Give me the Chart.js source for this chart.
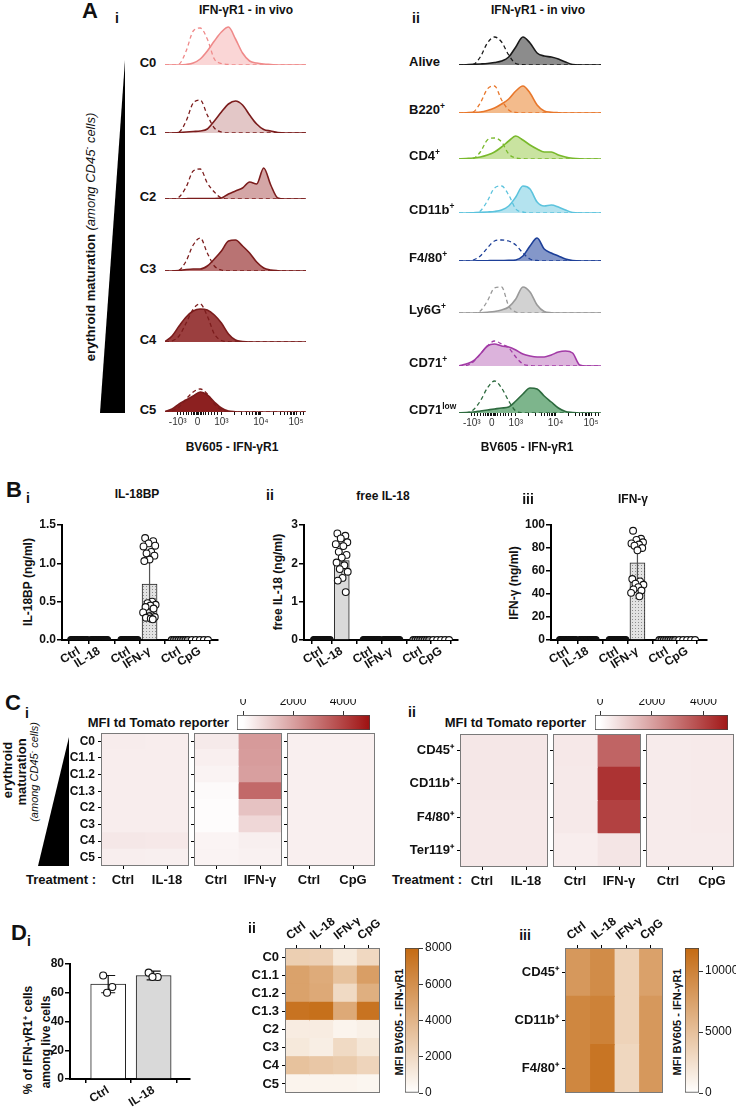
<!DOCTYPE html>
<html lang="en">
<head>
<meta charset="UTF-8">
<title>IFN-gR1 figure</title>
<script src="https://cdn.jsdelivr.net/npm/chart.js@4.4.1/dist/chart.umd.min.js"></script>
<style>
  body { margin: 0; background: #fff; }
  #stage { position: relative; width: 736px; height: 1110px; overflow: hidden;
           font-family: 'Liberation Sans', Arial, sans-serif; color: #111; }
  #stage canvas { position: absolute; }
  .t { position: absolute; white-space: nowrap; font-weight: bold; line-height: 1; }
  .t sup { font-size: 65%; vertical-align: 0.55em; line-height: 0; }
  .tri { position: absolute; background: #000; clip-path: polygon(100% 0, 100% 100%, 0 100%); }
</style>
</head>
<body>
<div id="stage"></div>
<script>
// ---------------- A : histograms (display channel 0..100, counts) ----------------
const histX = [0,5,10,15,20,25,30,35,40,45,50,55,60,65,70,75,80,85,90,95,100];
const axisTickPos = [9,23,40,68,93];
const axisTickLabels = ['-10³','0','10³','10⁴','10⁵'];
const minorTickPos = [11,13,15,17,19,20,21,22,24,25,26,27,29,31,33,35,37,49,54,58,60,62,64,65,66,67,77,82,85,87,89,90,91,92,96,98];

const eryNames = ['C0','C1','C2','C3','C4','C5'];
const c0Stain = [0,0,0,0.5,2,6,14,24,33,38,26,12,4,2,1,0.5,0,0,0,0,0];
const c0Iso   = [0,0,1,14,34,37,26,6,1.5,0.5,0,0,0,0,0,0,0,0,0,0,0];
const c1Stain = [0,0,0.5,1,1.5,2,4,12,21,29,32,28,18,9,3.5,2,0.5,0,0,0,0];
const c1Iso   = [0,0,1,12,30,33,18,5,1,0,0,0,0,0,0,0,0,0,0,0,0];
const c2Stain = [0,0,0,0.3,0.5,0.5,0.5,0.5,1,5,8,11,17,15,31,14,1,0,0,0,0];
const c2Iso   = [0,0,2,12,28,30,16,7,1,0,0,0,0,0,0,0,0,0,0,0,0];
const c3Stain = [0,0,0.5,1.5,2,2,5,12,20,30,31,25,18,9,3,1,0.3,0,0,0,0];
const c3Iso   = [0,0,1,10,26,33,18,5,1,0,0,0,0,0,0,0,0,0,0,0,0];
const c4Stain = [0.5,6,16,25,31,33,32,27,19,8,2,0.5,0,0,0,0,0,0,0,0,0];
const c4Iso   = [0,1,6,19,33,38,26,8,1.5,0.3,0,0,0,0,0,0,0,0,0,0,0];
const c5Stain = [0.5,3,8,12,16,20,17,10,4,1,0.3,0,0,0,0,0,0,0,0,0,0];
const c5Iso   = [0,1,5,13,20,23,18,8,2,0,0,0,0,0,0,0,0,0,0,0,0];

const popNames = ['Alive','B220<sup>+</sup>','CD4<sup>+</sup>','CD11b<sup>+</sup>','F4/80<sup>+</sup>','Ly6G<sup>+</sup>','CD71<sup>+</sup>','CD71<sup>low</sup>'];
const aliveStain   = [0,0.3,0.6,1,1.5,2.5,4,8,18,28,22,12,9,8,6,3,0.5,0,0,0,0];
const aliveIso     = [0,0,0.5,8,22,28,23,10,1.5,0.3,0,0,0,0,0,0,0,0,0,0,0];
const b220Stain    = [0,0.3,0.6,1,2.5,5,9,14,22,27,20,8,2,0.8,0.3,0,0,0,0,0,0];
const b220Iso      = [0,0,1,10,24,27,13,3,0.5,0,0,0,0,0,0,0,0,0,0,0,0];
const cd4Stain     = [0,0.5,1,2,4,7,12,18,23,19,14,10,7,7,4,2,0.8,0.2,0,0,0];
const cd4Iso       = [0,0,0.5,7,19,21,17,5,1,0.3,0,0,0,0,0,0,0,0,0,0,0];
const cd11bStain   = [0,0,0.3,0.6,1,1.5,3,7,16,27,24,11,7,8,6,3,0.5,0,0,0,0];
const cd11bIso     = [0,0,0,2,12,25,27,18,4,1,0,0,0,0,0,0,0,0,0,0,0];
const f480Stain    = [0,0,0,0.2,0.3,0.4,0.5,0.6,1,5,15,23,12,8,5,2,0.5,0,0,0,0];
const f480Iso      = [0,0,1,5,13,20,21,20,16,8,2,0.5,0,0,0,0,0,0,0,0,0];
const ly6gStain    = [0,0,0,0.3,0.8,1.5,3,6,14,26,21,8,1.5,0.3,0,0,0,0,0,0,0];
const ly6gIso      = [0,0,0,2,12,25,26,7,1,0,0,0,0,0,0,0,0,0,0,0,0];
const cd71Stain    = [0,2,5,12,20,22,20,19,16,12,10,9,9,11,14,15,13,1,0,0,0];
const cd71Iso      = [0,0.5,4,12,20,25,22,18,9,2,0.5,0,0,0,0,0,0,0,0,0,0];
const cd71lowStain = [0,0.5,1,2,3,4,5,6,12,19,25,24,17,11,5,1.5,0.5,0,0,0,0];
const cd71lowIso   = [0,0,3,12,25,32,25,12,2,0.3,0,0,0,0,0,0,0,0,0,0,0];

// ---------------- B : ELISA ----------------
const bCats = ['Ctrl','IL-18','Ctrl','IFN-γ','Ctrl','CpG'];
const bPos = [1,2,3.5,4.5,6,7];
const undet12 = [0,0,0,0,0,0,0,0,0,0,0,0];
const undet8 = [0,0,0,0,0,0,0,0];
const undet5 = [0,0,0,0,0];
const il18bpMean = [0,0,0,0.73,0,0];
const il18bpSd = [0,0,0,0.33,0,0];
const il18bpIfng = [1.33,1.29,1.26,1.23,1.22,1.15,1.13,1.10,1.05,1.03,0.50,0.48,0.46,0.45,0.43,0.41,0.36,0.32,0.31,0.30,0.29,0.28,0.27];
const freeIl18Mean = [0,2.07,0,0,0,0];
const freeIl18Sd = [0,0.45,0,0,0,0];
const freeIl18Il18 = [2.78,2.72,2.65,2.55,2.50,2.45,2.30,2.22,2.15,2.02,1.95,1.85,1.78,1.62,1.55,1.25];
const ifngMean = [0,0,0,67,0,0];
const ifngSd = [0,0,0,19,0,0];
const ifngIfng = [95,88,87,85,84,83,82,80,78,53,51,49,48,46,44,43,41,38];

// ---------------- C : tdTomato reporter MFI ----------------
const ciRows = ['C0','C1.1','C1.2','C1.3','C2','C3','C4','C5'];
const ciCtrlA = [400,390,390,390,390,390,520,360];
const ciIl18  = [380,380,380,380,380,380,500,350];
const ciCtrlB = [450,330,250,100,60,60,230,250];
const ciIfng  = [2150,2100,2050,3200,1300,850,350,300];
const ciCtrlC = [330,330,330,330,330,330,330,330];
const ciCpg   = [340,330,330,330,330,330,330,330];
const ciiRows = ['CD45⁺','CD11b⁺','F4/80⁺','Ter119⁺'];
const ciiCtrlA = [520,510,500,480];
const ciiIl18  = [520,510,500,480];
const ciiCtrlB = [480,470,460,380];
const ciiIfng  = [3300,4350,4050,560];
const ciiCtrlC = [430,430,430,430];
const ciiCpg   = [440,440,440,430];

// ---------------- D ----------------
const diCats = ['Ctrl','IL-18'];
const diMean = [66,72];
const diSd = [6,3];
const diCtrlPts = [72,64,60];
const diIl18Pts = [74,71,71];
const dCols = ['Ctrl','IL-18','IFN-γ','CpG'];
const diiCtrl = [2600,5000,5000,7500,1000,1200,3300,600];
const diiIl18 = [2500,4500,4600,7700,1000,900,3000,600];
const diiIfng = [1200,3300,2000,4600,600,2000,2800,600];
const diiCpg  = [2100,5200,4300,7500,800,1300,2300,500];
const diiiRows = ['CD45⁺','CD11b⁺','F4/80⁺'];
const diiiCtrl = [8200,9600,9600];
const diiiIl18 = [9200,10000,11000];
const diiiIfng = [3500,3500,3200];
const diiiCpg  = [7500,8200,8200];

// ---------------- styling ----------------
const eryLine = ['#ef8a8a','#7b1c1c','#7b1c1c','#7b1c1c','#7b1c1c','#7b1c1c'];
const eryFill = ['#fad6d6','#e3c7c7','#d4a6a6','#b97373','#9b3f3f','#8c2020'];
const popLine = ['#1a1a1a','#e8772b','#79b92c','#5cc3dd','#1d3f98','#9a9a9a','#a23ba6','#2d6a3e'];
const popFill = ['#8c8c8c','#f3bb8c','#c9e3a0','#b4e3ef','#8497c9','#d2d2d2','#dcb3dc','#7db58c'];
const dotFill = { k: '#111', o: '#fff', g: '#9a9a9a' };
const jitter = [-0.22,0.18,-0.05,0.28,-0.3,0.08,-0.15,0.24,0.0,-0.26,0.13,-0.1,0.3,0.04,-0.2,0.2,-0.32,0.1,-0.02,0.26,-0.18,0.06,0.16];
const tomatoHi = [160,20,20];
const bv605Hi = [196,106,18];

Chart.defaults.font.family = "'Liberation Sans', Arial, sans-serif";
Chart.defaults.color = '#111';
Chart.defaults.animation = false;
Chart.defaults.events = [];
Chart.defaults.plugins.legend.display = false;
Chart.defaults.plugins.tooltip.enabled = false;

const stage = document.getElementById('stage');

function place(x, y, w, h, config) {
  const c = document.createElement('canvas');
  c.width = w; c.height = h;
  c.style.left = x + 'px'; c.style.top = y + 'px';
  stage.appendChild(c);
  config.options = Object.assign({ responsive: false, maintainAspectRatio: false }, config.options);
  return new Chart(c, config);
}

function label(x, y, html, css, anchor, rot) {
  const d = document.createElement('div');
  d.className = 't';
  d.innerHTML = html;
  d.style.cssText = css || '';
  d.style.left = x + 'px'; d.style.top = y + 'px';
  const tx = anchor === 'l' ? '0' : anchor === 'r' ? '-100%' : '-50%';
  d.style.transform = `translate(${tx}, -50%)` + (rot ? ` rotate(${rot}deg)` : '');
  stage.appendChild(d);
}

function triangle(x, y, w, h) {
  const d = document.createElement('div');
  d.className = 'tri';
  Object.assign(d.style, { left: x + 'px', top: y + 'px', width: w + 'px', height: h + 'px' });
  stage.appendChild(d);
}

function shade(v, max, hi) {
  const t = Math.max(0, Math.min(1, v / max));
  const c = hi.map(h => Math.round(255 + (h - 255) * t));
  return `rgb(${c[0]},${c[1]},${c[2]})`;
}

const pairs = (xs, ys) => ys.map((y, i) => ({ x: xs[i], y }));

// ---------- histogram ----------
const histH = 46;
function histogram(left, width, base, stain, iso, line, fill, withAxis) {
  const axH = 24;
  return place(left, base - histH, width, histH + (withAxis ? axH : 2), {
    type: 'line',
    data: { datasets: [
      { data: pairs(histX, iso), borderColor: line, borderWidth: 1.3, borderDash: [4, 3], fill: false },
      { data: pairs(histX, stain), borderColor: line, borderWidth: 1.6, backgroundColor: fill, fill: 'origin' }
    ]},
    options: {
      layout: { padding: { bottom: withAxis ? 0 : 2 } },
      elements: { point: { radius: 0 }, line: { cubicInterpolationMode: 'monotone' } },
      scales: {
        x: { type: 'linear', min: 0, max: 100, display: withAxis,
             border: { display: false },
             grid: { drawOnChartArea: false, tickLength: 3, color: '#111', lineWidth: 1 },
             afterBuildTicks: ax => { ax.ticks = axisTickPos.concat(minorTickPos).map(v => ({ value: v })); },
             afterFit: s => { if (withAxis) { s.height = axH; s.paddingLeft = 0; s.paddingRight = 0; } },
             ticks: { autoSkip: false, maxRotation: 0, minRotation: 0, padding: 1, font: { size: 10 }, color: '#333',
                      callback: v => { const i = axisTickPos.indexOf(v); return i < 0 ? '' : axisTickLabels[i]; } } },
        y: { min: 0, max: histH, display: false }
      }
    }
  });
}

// ---------- dotted bar fill ----------
const pat = document.createElement('canvas');
pat.width = 3; pat.height = 3;
const pctx = pat.getContext('2d');
pctx.fillStyle = '#e2e2e2'; pctx.fillRect(0, 0, 3, 3);
pctx.fillStyle = '#8e8e8e'; pctx.fillRect(0, 0, 1, 1);
const dotted = pctx.createPattern(pat, 'repeat');

function errBars(pos, means, sds, color, cap) {
  return {
    id: 'errbars',
    afterDatasetDraw(chart, args) {
      if (args.index !== 1) return;
      const { ctx, scales: { x, y } } = chart;
      ctx.save();
      ctx.strokeStyle = color; ctx.lineWidth = 1.2;
      means.forEach((m, i) => {
        if (!sds[i]) return;
        const px = x.getPixelForValue(pos[i]);
        const lo = y.getPixelForValue(m - sds[i]), hi = y.getPixelForValue(m + sds[i]);
        ctx.beginPath();
        ctx.moveTo(px, lo); ctx.lineTo(px, hi);
        ctx.moveTo(px - cap / 2, hi); ctx.lineTo(px + cap / 2, hi);
        ctx.moveTo(px - cap / 2, lo); ctx.lineTo(px + cap / 2, lo);
        ctx.stroke();
      });
      ctx.restore();
    }
  };
}

function dotBar(o) {
  const yw = 30, xh = 40, padTop = 8, padRight = 6;
  const pts = [], fills = [];
  o.groups.forEach((vals, g) => {
    vals.forEach((v, i) => {
      const off = (o.means[g] === 0)
        ? -0.4 + 0.8 * i / Math.max(1, vals.length - 1)
        : jitter[i % jitter.length];
      pts.push({ x: o.pos[g] + off * o.spread, y: v });
      fills.push(dotFill[o.dots[g]]);
    });
  });
  return place(o.axisX - yw, o.topPx - padTop, yw + (o.rightPx - o.axisX) + padRight,
               padTop + (o.zeroPx - o.topPx) + xh, {
    type: 'bar',
    data: { datasets: [
      { type: 'scatter', data: pts, pointRadius: o.r, pointBorderWidth: 1.1,
        pointBackgroundColor: fills, pointBorderColor: '#111' },
      { type: 'bar', data: o.means.map((m, i) => ({ x: o.pos[i], y: m })),
        backgroundColor: o.barFill, borderColor: '#222', borderWidth: 1,
        barThickness: o.barW, borderSkipped: 'bottom' }
    ]},
    options: {
      layout: { padding: { top: padTop, right: padRight } },
      scales: {
        x: { type: 'linear', min: o.xmin, max: o.xmax, offset: false,
             border: { color: '#000', width: 2 },
             grid: { drawOnChartArea: false, tickLength: 4, color: '#000', lineWidth: 1.5 },
             afterBuildTicks: ax => { ax.ticks = o.pos.map(v => ({ value: v })); },
             afterFit: s => { s.height = xh; s.paddingLeft = 0; s.paddingRight = 0; },
             ticks: { autoSkip: false, minRotation: 32, maxRotation: 32, padding: 0,
                      font: { size: 12, weight: 'bold' }, callback: (v, i) => o.cats[i] } },
        y: { min: 0, max: o.ymax,
             border: { color: '#000', width: 2 },
             grid: { drawOnChartArea: false, tickLength: 5, color: '#000', lineWidth: 1.5 },
             afterFit: s => { s.width = yw; s.paddingTop = 0; s.paddingBottom = 0; },
             ticks: { stepSize: o.ystep, padding: 1, font: { size: 12, weight: 'bold' }, callback: o.yfmt } }
      }
    },
    plugins: [errBars(o.pos, o.means, o.sds, o.errColor, o.cap)]
  });
}

// ---------- heatmap ----------
const frame = color => ({
  id: 'frame',
  afterDatasetsDraw(chart) {
    const { ctx, chartArea: a } = chart;
    ctx.save();
    ctx.strokeStyle = color; ctx.lineWidth = 1;
    ctx.strokeRect(Math.round(a.left) + 0.5, Math.round(a.top) + 0.5,
                   Math.round(a.right - a.left) - 1, Math.round(a.bottom - a.top) - 1);
    ctx.restore();
  }
});

function heatmap(o) {
  const [x0, y0, w, h] = o.area;
  const top = o.xTop, yw = o.yw, xh = o.xh, padR = 2;
  const cTop = top ? y0 - xh : y0;
  const height = top ? xh + h + 2 : h + xh;
  const colTicks = o.cols.map((_, i) => i + 0.5);
  return place(x0 - yw, cTop, yw + w + padR, height, {
    type: 'bar',
    data: { labels: o.rows, datasets: o.matrix.map(col => ({
      data: col.map(() => 1),
      backgroundColor: col.map(v => shade(v, o.max, o.hi)),
      borderWidth: 0, barPercentage: 1, categoryPercentage: 1, inflateAmount: 0.6 })) },
    options: {
      indexAxis: 'y',
      layout: { padding: { right: padR, bottom: top ? 2 : 0 } },
      scales: {
        x: { type: 'linear', stacked: true, min: 0, max: o.cols.length, position: top ? 'top' : 'bottom',
             border: { display: false },
             grid: { drawOnChartArea: false, tickLength: 3, color: '#000' },
             afterBuildTicks: ax => { ax.ticks = colTicks.map(v => ({ value: v })); },
             afterFit: s => { s.height = xh; s.paddingLeft = 0; s.paddingRight = 0; },
             ticks: { autoSkip: false, minRotation: o.rot, maxRotation: o.rot, padding: o.xpad,
                      font: { size: o.xfont, weight: 'bold' }, callback: (v, i) => o.cols[i] } },
        y: { stacked: true, border: { display: false },
             grid: { offset: false, drawOnChartArea: false, tickLength: 3, color: '#000' },
             afterFit: s => { s.width = yw; s.paddingTop = 0; s.paddingBottom = 0; },
             ticks: { display: o.rowLabels, autoSkip: false, padding: 3, font: { size: o.yfont, weight: 'bold' } } }
      }
    },
    plugins: [frame('#7a7a7a')]
  });
}

function colorbar(o) {
  const [x0, y0, w, h] = o.area;
  const vert = o.vertical;
  const grad = ctx => {
    const ch = ctx.chart;
    if (!ch.chartArea) return shade(o.max, o.max, o.hi);
    const s = ch.scales[vert ? 'y' : 'x'];
    const p0 = s.getPixelForValue(0), p1 = s.getPixelForValue(o.full);
    const g = vert ? ch.ctx.createLinearGradient(0, p0, 0, p1) : ch.ctx.createLinearGradient(p0, 0, p1, 0);
    g.addColorStop(0, '#fff');
    g.addColorStop(1, shade(o.full, o.full, o.hi));
    return g;
  };
  const valueScale = {
    type: 'linear', min: o.min, max: o.max, position: vert ? 'right' : 'top',
    border: { display: false },
    grid: { drawOnChartArea: false, tickLength: 4, color: '#333' },
    afterBuildTicks: ax => { ax.ticks = o.ticks.map(v => ({ value: v })); },
    afterFit: s => {
      if (vert) { s.width = 44; s.paddingTop = 0; s.paddingBottom = 0; }
      else { s.height = 16; s.paddingLeft = 0; s.paddingRight = 0; }
    },
    ticks: { autoSkip: false, maxRotation: 0, padding: 2, font: { size: 12 }, callback: v => String(v) }
  };
  const catScale = { display: false };
  return place(vert ? x0 : x0 - 10, vert ? y0 - 8 : y0 - 16, vert ? w + 44 : w + 26, vert ? h + 16 : h + 17, {
    type: 'bar',
    data: { labels: [''], datasets: [{ data: [[o.min, o.max]], backgroundColor: grad,
            borderColor: '#444', borderWidth: 1, borderSkipped: false,
            barPercentage: 1, categoryPercentage: 1 }] },
    options: {
      indexAxis: vert ? 'x' : 'y',
      layout: { padding: vert ? { top: 8, bottom: 8 } : { left: 10, right: 16, bottom: 1 } },
      scales: vert ? { x: catScale, y: valueScale } : { y: catScale, x: valueScale }
    }
  });
}

// ================= Panel A =================
label(90, 11, 'A', 'font-size:22px');
label(117, 18, 'i', 'font-size:14px');
label(246, 10, 'IFN-γR1 - in vivo', 'font-size:12px');
label(416, 18, 'ii', 'font-size:14px');
label(538, 10, 'IFN-γR1 - in vivo', 'font-size:12px');
triangle(100, 60, 25, 353);
label(90, 237, 'erythroid maturation <i style="font-weight:normal">(among CD45<sup>-</sup> cells)</i>', 'font-size:13px', 'c', -90);

const eryBase = [65,133,199,271,342,412];
const eryStain = [c0Stain, c1Stain, c2Stain, c3Stain, c4Stain, c5Stain];
const eryIso = [c0Iso, c1Iso, c2Iso, c3Iso, c4Iso, c5Iso];
eryBase.forEach((b, i) => {
  histogram(165, 141, b, eryStain[i], eryIso[i], eryLine[i], eryFill[i], i === eryBase.length - 1);
  label(148, b - 3, eryNames[i], 'font-size:13px');
});

const popBase = [65,113,159,213,261,313,366,413];
const popStain = [aliveStain, b220Stain, cd4Stain, cd11bStain, f480Stain, ly6gStain, cd71Stain, cd71lowStain];
const popIso = [aliveIso, b220Iso, cd4Iso, cd11bIso, f480Iso, ly6gIso, cd71Iso, cd71lowIso];
popBase.forEach((b, i) => {
  histogram(459, 142, b, popStain[i], popIso[i], popLine[i], popFill[i], i === popBase.length - 1);
  label(409, b - 4, popNames[i], 'font-size:13px', 'l');
});
label(232, 447, 'BV605 - IFN-γR1', 'font-size:12px');
label(527, 447, 'BV605 - IFN-γR1', 'font-size:12px');

// ================= Panel B =================
label(14, 490, 'B', 'font-size:22px');
label(28, 498, 'i', 'font-size:14px');
label(137, 494, 'IL-18BP', 'font-size:12px');
label(270, 495, 'ii', 'font-size:14px');
label(383, 496, 'free IL-18', 'font-size:12px');
label(528, 499, 'iii', 'font-size:14px');
label(633, 499, 'IFN-γ', 'font-size:12px');
label(28, 582, 'IL-18BP (ng/ml)', 'font-size:12px', 'c', -90);
label(278, 582, 'free IL-18 (ng/ml)', 'font-size:12px', 'c', -90);
label(514, 583, 'IFN-γ (ng/ml)', 'font-size:12px', 'c', -90);

dotBar({ axisX: 62, topPx: 525, zeroPx: 640, rightPx: 218, xmin: 0.15, xmax: 7.9, ymax: 1.5, ystep: 0.5,
         yfmt: v => v.toFixed(1), cats: bCats, pos: bPos, means: il18bpMean, sds: il18bpSd,
         groups: [undet12, undet12, undet12, il18bpIfng, undet8, undet5], dots: ['k','k','k','o','g','o'],
         barFill: dotted, barW: 15, spread: 1, r: 3.4, errColor: '#555', cap: 8 });
dotBar({ axisX: 304, topPx: 525, zeroPx: 640, rightPx: 458, xmin: 0.1, xmax: 7.85, ymax: 3, ystep: 1,
         yfmt: v => v, cats: bCats, pos: bPos, means: freeIl18Mean, sds: freeIl18Sd,
         groups: [undet12, freeIl18Il18, undet12, undet12, undet8, undet5], dots: ['k','o','k','k','g','o'],
         barFill: '#dadada', barW: 15, spread: 1, r: 3.4, errColor: '#555', cap: 8 });
dotBar({ axisX: 551, topPx: 525, zeroPx: 640, rightPx: 707, xmin: 0.15, xmax: 8.0, ymax: 100, ystep: 20,
         yfmt: v => v, cats: bCats, pos: bPos, means: ifngMean, sds: ifngSd,
         groups: [undet12, undet12, undet12, ifngIfng, undet8, undet5], dots: ['k','k','k','o','g','o'],
         barFill: dotted, barW: 15, spread: 1, r: 3.4, errColor: '#555', cap: 8 });

// ================= Panel C =================
label(13, 703, 'C', 'font-size:22px');
label(27, 713, 'i', 'font-size:14px');
label(229, 722, 'MFI td Tomato reporter', 'font-size:13px', 'r');
label(412, 712, 'ii', 'font-size:14px');
label(586, 722, 'MFI td Tomato reporter', 'font-size:13px', 'r');
triangle(38, 737, 31, 129);
label(7, 770, 'erythroid', 'font-size:13px', 'c', -90);
label(21, 772, 'maturation', 'font-size:13px', 'c', -90);
label(34, 772, '<i>(among CD45<sup>-</sup> cells)</i>', 'font-size:11px;font-weight:normal', 'c', -90);
label(96, 879, 'Treatment :', 'font-size:13px', 'r');
label(462, 879, 'Treatment :', 'font-size:13px', 'r');

const ciPanels = [[ciCtrlA, ciIl18, ['Ctrl','IL-18']], [ciCtrlB, ciIfng, ['Ctrl','IFN-γ']], [ciCtrlC, ciCpg, ['Ctrl','CpG']]];
const ciLeft = [101, 194, 287];
ciPanels.forEach((p, i) => heatmap({ area: [ciLeft[i], 733, 88, 133], rows: ciRows, cols: p[2], matrix: [p[0], p[1]],
  max: 5000, hi: tomatoHi, xTop: false, yw: i === 0 ? 42 : 4, xh: 26, rowLabels: i === 0,
  rot: 0, xpad: 4, xfont: 13, yfont: 12 }));
colorbar({ area: [237, 715, 133, 15], min: -240, max: 5080, full: 5000, ticks: [0, 2000, 4000], hi: tomatoHi, vertical: false });

const ciiPanels = [[ciiCtrlA, ciiIl18, ['Ctrl','IL-18']], [ciiCtrlB, ciiIfng, ['Ctrl','IFN-γ']], [ciiCtrlC, ciiCpg, ['Ctrl','CpG']]];
const ciiLeft = [460, 553, 646];
ciiPanels.forEach((p, i) => heatmap({ area: [ciiLeft[i], 734, 88, 133], rows: ciiRows, cols: p[2], matrix: [p[0], p[1]],
  max: 5000, hi: tomatoHi, xTop: false, yw: i === 0 ? 64 : 4, xh: 26, rowLabels: i === 0,
  rot: 0, xpad: 4, xfont: 13, yfont: 13 }));
colorbar({ area: [595, 715, 133, 15], min: -200, max: 4950, full: 5000, ticks: [0, 2000, 4000], hi: tomatoHi, vertical: false });

// ================= Panel D =================
label(19, 933, 'D', 'font-size:22px');
label(29, 941, 'i', 'font-size:14px');
label(252, 928, 'ii', 'font-size:14px');
label(525, 935, 'iii', 'font-size:14px');
label(28, 1040, '% of IFN-γR1<sup>+</sup> cells', 'font-size:12px', 'c', -90);
label(46, 1042, 'among live cells', 'font-size:12px', 'c', -90);
label(399, 1022, 'MFI BV605 - IFN-γR1', 'font-size:11px', 'c', -90);
label(677, 1022, 'MFI BV605 - IFN-γR1', 'font-size:11px', 'c', -90);

dotBar({ axisX: 70, topPx: 964, zeroPx: 1079, rightPx: 190, xmin: 0.16, xmax: 2.8, ymax: 80, ystep: 20,
         yfmt: v => v, cats: diCats, pos: [1, 2], means: diMean, sds: diSd,
         groups: [diCtrlPts, diIl18Pts], dots: ['o','o'],
         barFill: ['#ffffff', '#d9d9d9'], barW: 35, spread: 0.5, r: 3.5, errColor: '#111', cap: 14 });

heatmap({ area: [285, 948, 95, 145], rows: ciRows, cols: dCols, matrix: [diiCtrl, diiIl18, diiIfng, diiCpg],
  max: 8000, hi: bv605Hi, xTop: true, yw: 40, xh: 30, rowLabels: true, rot: 38, xpad: 2, xfont: 12, yfont: 13 });
colorbar({ area: [405, 948, 14, 145], min: 0, max: 8000, full: 8000, ticks: [0, 2000, 4000, 6000, 8000], hi: bv605Hi, vertical: true });

heatmap({ area: [565, 948, 98, 145], rows: diiiRows, cols: dCols, matrix: [diiiCtrl, diiiIl18, diiiIfng, diiiCpg],
  max: 11900, hi: bv605Hi, xTop: true, yw: 50, xh: 30, rowLabels: true, rot: 38, xpad: 2, xfont: 12, yfont: 13 });
colorbar({ area: [685, 948, 14, 145], min: 0, max: 11900, full: 11900, ticks: [0, 5000, 10000], hi: bv605Hi, vertical: true });
</script>
</body>
</html>
